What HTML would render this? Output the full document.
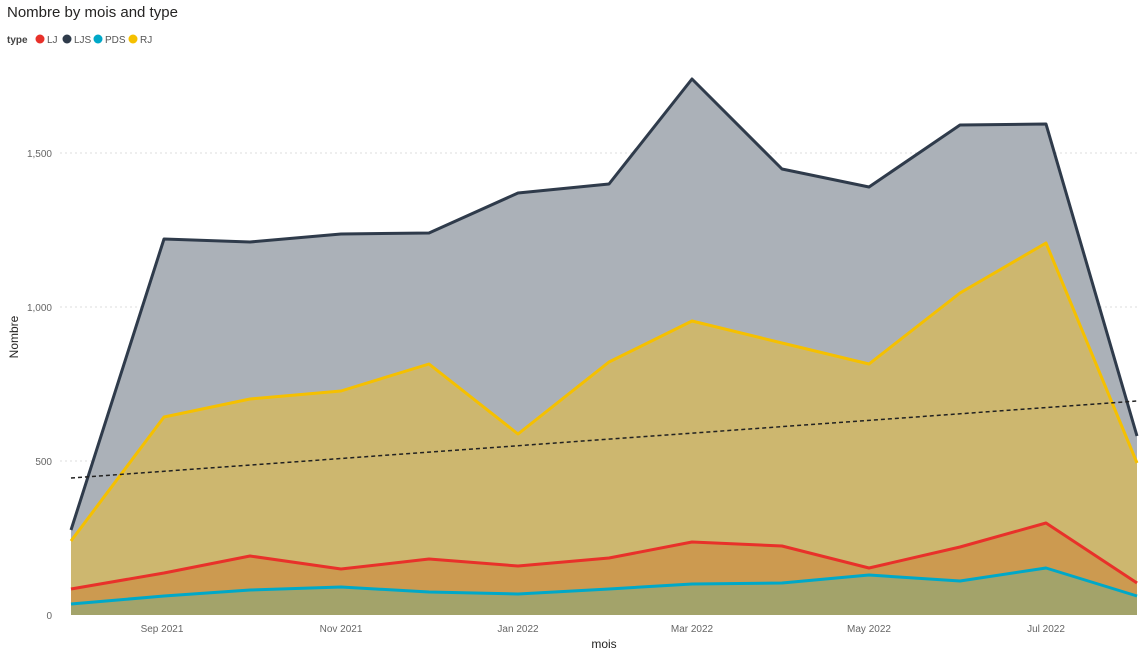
<!DOCTYPE html>
<html><head><meta charset="utf-8"><style>
body{margin:0;background:#fff;font-family:"Liberation Sans",sans-serif;}
</style></head><body>
<svg width="1146" height="661" xmlns="http://www.w3.org/2000/svg" font-family="Liberation Sans, sans-serif">
<text x="7" y="17" font-size="15" fill="#252423">Nombre by mois and type</text>
<text x="7" y="43" font-size="10" font-weight="bold" fill="#444">type</text>
<circle cx="40" cy="39" r="4.5" fill="#e8312a"/><text x="47" y="43" font-size="10" fill="#555">LJ</text>
<circle cx="67" cy="39" r="4.5" fill="#2f3b4b"/><text x="74" y="43" font-size="10" fill="#555">LJS</text>
<circle cx="98" cy="39" r="4.5" fill="#00a8c8"/><text x="105" y="43" font-size="10" fill="#555">PDS</text>
<circle cx="133" cy="39" r="4.5" fill="#f5c000"/><text x="140" y="43" font-size="10" fill="#555">RJ</text>
<g stroke="#ddd" stroke-dasharray="2,3" stroke-width="1">
<line x1="60" x2="1140" y1="153" y2="153"/><line x1="60" x2="1140" y1="307" y2="307"/><line x1="60" x2="1140" y1="461" y2="461"/>
</g>
<g font-size="10" fill="#666" text-anchor="end">
<text x="52" y="157">1,500</text><text x="52" y="311">1,000</text><text x="52" y="465">500</text><text x="52" y="619">0</text>
</g>
<text transform="translate(18,337) rotate(-90)" font-size="12" fill="#252423" text-anchor="middle">Nombre</text>
<g font-size="10" fill="#666" text-anchor="middle">
<text x="162" y="632">Sep 2021</text><text x="341" y="632">Nov 2021</text><text x="518" y="632">Jan 2022</text><text x="692" y="632">Mar 2022</text><text x="869" y="632">May 2022</text><text x="1046" y="632">Jul 2022</text>
</g>
<text x="604" y="648" font-size="12" fill="#252423" text-anchor="middle">mois</text>
<polygon fill="#abb1b8" points="71,530 164,239 250,242 341,234 429,233 518,193 609,184 692,79 782,169 869,187 960,125 1046,124 1137,436 1137,615 71,615"/>
<polygon fill="#cdb76f" points="71,541 164,417 250,399 341,391 429,364 518,434 609,362 692,321 782,343 869,364 960,293 1046,243 1137,463 1137,615 71,615"/>
<polygon fill="#cc9a50" points="71,589 164,573 250,556 341,569 429,559 518,566 609,558 692,542 782,546 869,568 960,547 1046,523 1137,583 1137,615 71,615"/>
<polygon fill="#a3a36a" points="71,604 164,596 250,590 341,587 429,592 518,594 609,589 692,584 782,583 869,575 960,581 1046,568 1137,596 1137,615 71,615"/>
<g fill="none" stroke-width="3" stroke-linejoin="round">
<polyline stroke="#2f3b4b" points="71,530 164,239 250,242 341,234 429,233 518,193 609,184 692,79 782,169 869,187 960,125 1046,124 1137,436"/>
<polyline stroke="#f5c000" points="71,541 164,417 250,399 341,391 429,364 518,434 609,362 692,321 782,343 869,364 960,293 1046,243 1137,463"/>
<polyline stroke="#e8312a" points="71,589 164,573 250,556 341,569 429,559 518,566 609,558 692,542 782,546 869,568 960,547 1046,523 1137,583"/>
<polyline stroke="#00a8c8" points="71,604 164,596 250,590 341,587 429,592 518,594 609,589 692,584 782,583 869,575 960,581 1046,568 1137,596"/>
</g>
<line x1="71" y1="478" x2="1137" y2="401" stroke="#222" stroke-width="1.5" stroke-dasharray="4,3"/>
</svg>
</body></html>
